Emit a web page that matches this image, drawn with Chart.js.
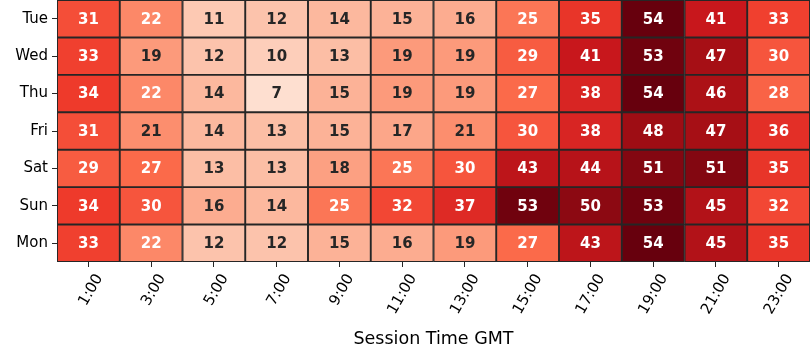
<!DOCTYPE html>
<html>
<head>
<meta charset="utf-8">
<script src="https://cdn.jsdelivr.net/npm/chart.js@4.4.1/dist/chart.umd.min.js"></script>
<style>
  html, body { margin: 0; padding: 0; background: #ffffff; }
  #wrap { width: 810px; height: 360px; position: relative; }
</style>
</head>
<body>
<div id="wrap"><canvas id="c" width="810" height="360"></canvas></div>
<script>
// ---- data ----
const times = ['1:00','3:00','5:00','7:00','9:00','11:00','13:00','15:00','17:00','19:00','21:00','23:00'];
const days = ['Tue','Wed','Thu','Fri','Sat','Sun','Mon']; // top to bottom
const tue = [31,22,11,12,14,15,16,25,35,54,41,33];
const wed = [33,19,12,10,13,19,19,29,41,53,47,30];
const thu = [34,22,14, 7,15,19,19,27,38,54,46,28];
const fri = [31,21,14,13,15,17,21,30,38,48,47,36];
const sat = [29,27,13,13,18,25,30,43,44,51,51,35];
const sun = [34,30,16,14,25,32,37,53,50,53,45,32];
const mon = [33,22,12,12,15,16,19,27,43,54,45,35];
const rows = [tue, wed, thu, fri, sat, sun, mon];
const vmin = 0, vmax = 54;

// ---- Reds colormap ----
const reds = ['#fff5f0','#fee0d2','#fcbba1','#fc9272','#fb6a4a','#ef3b2c','#cb181d','#a50f15','#67000d']
  .map(h => [parseInt(h.slice(1,3),16), parseInt(h.slice(3,5),16), parseInt(h.slice(5,7),16)]);
function cmap(v) {
  let t = (v - vmin) / (vmax - vmin);
  t = Math.max(0, Math.min(1, t));
  const p = t * (reds.length - 1);
  const i = Math.min(reds.length - 2, Math.floor(p));
  const f = p - i;
  const a = reds[i], b = reds[i + 1];
  return [0,1,2].map(k => Math.round(a[k] + (b[k] - a[k]) * f));
}
function rgbStr(c) { return 'rgb(' + c.join(',') + ')'; }
function lum(c) {
  const l = c.map(x => { x /= 255; return x <= 0.03928 ? x / 12.92 : Math.pow((x + 0.055) / 1.055, 2.4); });
  return 0.2126 * l[0] + 0.7152 * l[1] + 0.0722 * l[2];
}

// datasets stacked from bottom (Mon) to top (Tue)
const datasets = [];
for (let r = rows.length - 1; r >= 0; r--) {
  const vals = rows[r];
  datasets.push({
    label: days[r],
    data: vals.map(() => 1),
    cellValues: vals,
    backgroundColor: vals.map(v => rgbStr(cmap(v))),
    borderColor: '#262626',
    borderWidth: 1.3,
    borderSkipped: false,
    barPercentage: 1,
    categoryPercentage: 1,
    yAxisID: 'y'
  });
}

const labelPlugin = {
  id: 'cellLabels',
  afterDatasetsDraw(chart) {
    const ctx = chart.ctx;
    ctx.save();
    ctx.font = 'bold 15px "DejaVu Sans"';
    ctx.textAlign = 'center';
    ctx.textBaseline = 'middle';
    chart.data.datasets.forEach((ds, di) => {
      const meta = chart.getDatasetMeta(di);
      meta.data.forEach((el, i) => {
        const v = ds.cellValues[i];
        const c = cmap(v);
        ctx.fillStyle = lum(c) > 0.408 ? '#262626' : '#ffffff';
        ctx.fillText(String(v), el.x, (el.y + el.base) / 2 + 1);
      });
    });
    ctx.restore();
  }
};

new Chart(document.getElementById('c'), {
  type: 'bar',
  data: { labels: times, datasets },
  options: {
    responsive: false,
    animation: false,
    events: [],
    layout: { padding: 0 },
    plugins: { legend: { display: false }, tooltip: { enabled: false } },
    scales: {
      x: {
        type: 'category',
        stacked: true,
        offset: true,
        border: { display: false },
        grid: { display: true, drawOnChartArea: false, drawTicks: true, tickLength: 5, tickWidth: 1, tickColor: '#262626', offset: false },
        ticks: { color: '#000', font: { family: 'DejaVu Sans', size: 15 }, minRotation: 60, maxRotation: 60, autoSkip: false, labelOffset: 11, padding: 4 },
        title: { display: true, text: 'Session Time GMT', color: '#000', font: { family: 'DejaVu Sans', size: 17.5 }, padding: { top: 4, bottom: 10 } },
        afterFit(s) { s.height = 98; s.paddingLeft = 0; s.paddingRight = 0; }
      },
      y: {
        type: 'linear',
        stacked: true,
        min: 0, max: 7,
        display: false,
        afterFit(s) { s.paddingTop = 0; s.paddingBottom = 0; }
      },
      yDays: {
        type: 'category',
        labels: days,
        position: 'left',
        offset: true,
        border: { display: false },
        grid: { display: true, drawOnChartArea: false, drawTicks: true, tickLength: 5, tickWidth: 1, tickColor: '#262626', offset: false },
        ticks: { color: '#000', font: { family: 'DejaVu Sans', size: 15 }, padding: 4 },
        afterFit(s) { s.width = 57; s.paddingTop = 0; s.paddingBottom = 0; }
      }
    }
  },
  plugins: [labelPlugin]
});
</script>
</body>
</html>
